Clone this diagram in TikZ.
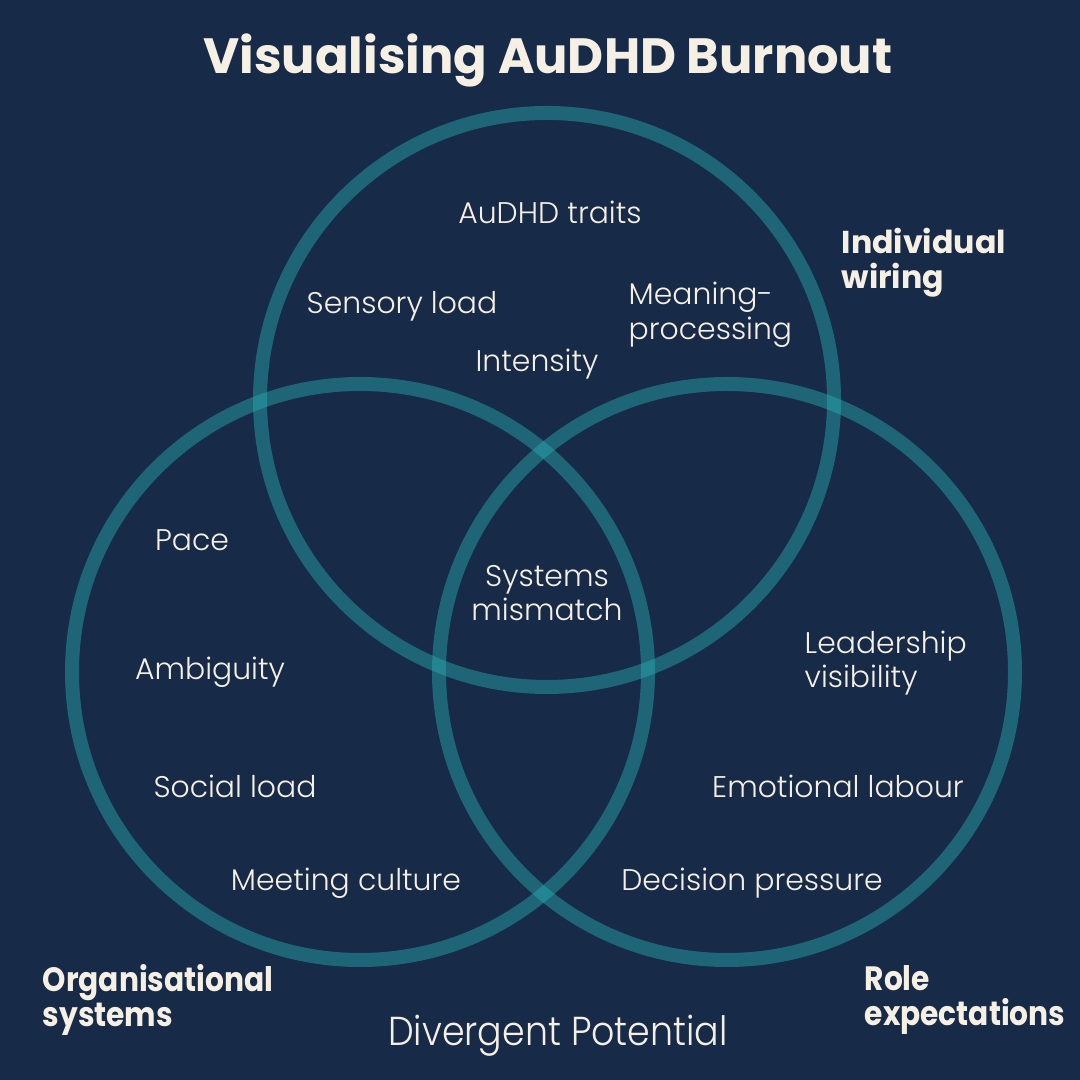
\documentclass[tikz,border=0pt]{standalone}
\usepackage{fontspec}
\setmainfont{Poppins}
\newfontfamily\lightfont{Poppins Light}
\newfontfamily\condfont{Poppins}[FakeStretch=0.88]
\newfontfamily\condlight{Poppins Light}[FakeStretch=0.9]
\usepackage{xcolor}
\usetikzlibrary{positioning}
\definecolor{navy}{HTML}{172A47}
\definecolor{ringteal}{HTML}{28ADB2}
\definecolor{cream}{HTML}{F6F0E4}

\begin{document}
\begin{tikzpicture}[
  ring/.style={draw=ringteal,draw opacity=0.45,line width=0.14cm},
  term/.style={text=cream,inner sep=0pt,align=center,
              font=\lightfont\fontsize{8.5}{9.8}\selectfont},
  termleft/.style={term,align=left,anchor=west},
  group/.style={text=cream,inner sep=0pt,align=left,anchor=west,
              font=\bfseries\fontsize{9}{10}\selectfont},
  groupcond/.style={group,font=\condfont\bfseries\fontsize{9.6}{10}\selectfont}
]
\fill[navy] (0,0) rectangle (10.8,10.8);
\useasboundingbox (0,0) rectangle (10.8,10.8);

% three overlapping circles
\draw[ring] (5.47,6.80) circle (2.87);
\draw[ring] (3.60,4.08) circle (2.88);
\draw[ring] (7.27,4.08) circle (2.88);

\node[text=cream,font=\bfseries\fontsize{14.1}{17}\selectfont] (title) at (5.48,10.20)
  {Visualising AuDHD Burnout};

% individual wiring
\node[term] (traits) at (5.50,8.68) {AuDHD traits};
\node[term] (sensory) at (4.02,7.74) {Sensory load};
\node[termleft] (meaning) at (6.28,7.65) {Meaning-\\processing};
\node[term] (intensity) at (5.37,7.16) {Intensity};
\node[term] (mismatch) at (5.47,4.87) {Systems\\mismatch};

% organisational systems
\node[term] (pace) at (1.92,5.40) {Pace};
\node[term] (ambiguity) at (2.10,4.08) {Ambiguity};
\node[term] (social) at (2.35,2.94) {Social load};
\node[term] (meeting) at (3.46,1.97) {Meeting culture};

% role expectations
\node[termleft] (leadership) at (8.04,4.17) {Leadership\\visibility};
\node[term] (emotional) at (8.38,2.94) {Emotional labour};
\node[term] (decision) at (7.52,1.97) {Decision pressure};

% circle labels
\node[group] (wiring) at (8.41,8.17) {Individual\\wiring};
\node[groupcond] (orgsys) at (0.42,0.80) {Organisational\\systems};
\node[groupcond] (roleexp) at (8.64,0.80) {Role\\expectations};
\node[text=cream,inner sep=0pt,font=\condlight\fontsize{11.5}{13}\selectfont] (potential)
  at (5.58,0.44) {Divergent Potential};
\end{tikzpicture}
\end{document}
